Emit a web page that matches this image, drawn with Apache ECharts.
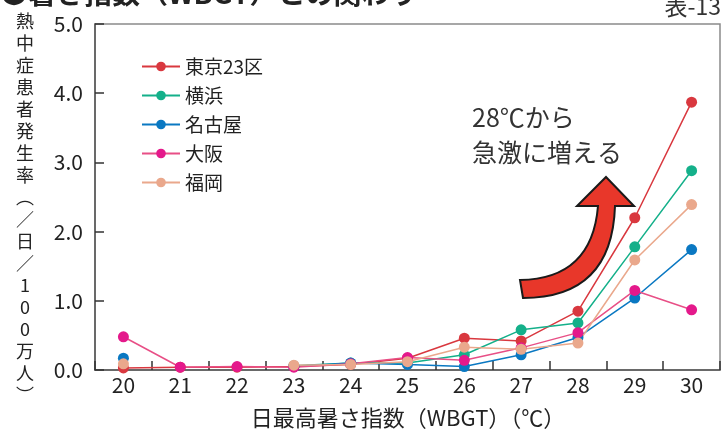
<!DOCTYPE html>
<html>
<head>
<meta charset="utf-8">
<script src="https://cdn.jsdelivr.net/npm/echarts@6/dist/echarts.min.js"></script>
<style>
html,body{margin:0;padding:0;background:#fff;}
#chart{width:723px;height:434px;}
</style>
</head>
<body>
<div id="chart"></div>
<script>
var categories = ['20','21','22','23','24','25','26','27','28','29','30'];
var yTicks = [0, 1, 2, 3, 4, 5];
var seriesNames = ['東京23区', '横浜', '名古屋', '大阪', '福岡'];
var tokyo    = [0.03, 0.04, 0.04, 0.05, 0.08, 0.17, 0.46, 0.42, 0.85, 2.20, 3.87];
var yokohama = [null, null, null, 0.06, 0.10, 0.10, 0.22, 0.58, 0.68, 1.78, 2.88];
var nagoya   = [0.17, null, null, 0.05, 0.10, 0.08, 0.05, 0.22, 0.47, 1.04, 1.74];
var osaka    = [0.48, 0.04, 0.05, 0.04, 0.09, 0.18, 0.14, 0.32, 0.54, 1.15, 0.87];
var fukuoka  = [0.09, null, null, 0.07, 0.08, 0.12, 0.33, 0.30, 0.39, 1.59, 2.39];

var FONT = "'Noto Sans CJK JP', 'Noto Sans', sans-serif";
var dotColors  = ['#d9383f', '#14b08a', '#0a78c2', '#e4198b', '#eaa88c'];
var lineColors = ['#d9383f', '#14b08a', '#0a78c2', '#e84f86', '#eaa88c'];
var values = [tokyo, yokohama, nagoya, osaka, fukuoka];

var ArrowShape = echarts.graphic.extendPath(
  'M520 280 Q592 279 598 206 L577 206 L606 177 L634 206 L615 206 Q612 298 523 298 Z', {});
echarts.graphic.registerShape('bigArrow', ArrowShape);

var chart = echarts.init(document.getElementById('chart'));
var series = seriesNames.map(function (name, i) {
  return {
    name: name,
    type: 'line',
    data: values[i],
    symbol: 'circle',
    symbolSize: 11,
    showSymbol: true,
    connectNulls: false,
    itemStyle: { color: dotColors[i] },
    lineStyle: { color: lineColors[i], width: 1.5 },
    emphasis: { disabled: true },
    animation: false
  };
});

var yLabel = '熱中症患者発生率︵／日／100万人︶'.split('').join('\n');

chart.setOption({
  animation: false,
  grid: {
    left: 95, right: 3, top: 24, bottom: 64,
    show: true, borderColor: '#8a8a8a', borderWidth: 1.5, backgroundColor: 'transparent'
  },
  legend: {
    orient: 'vertical',
    left: 141, top: 57,
    padding: 0,
    itemWidth: 38, itemHeight: 12,
    itemGap: 10,
    textStyle: { fontFamily: FONT, fontSize: 19, color: '#222' },
    data: seriesNames.map(function (n, i) {
      return { name: n, itemStyle: { color: dotColors[i] }, lineStyle: { color: lineColors[i] } };
    })
  },
  xAxis: {
    type: 'category',
    data: categories,
    boundaryGap: true,
    axisLine: { lineStyle: { color: '#555', width: 1.5 } },
    axisTick: { show: true, inside: true, length: 9, alignWithLabel: false, lineStyle: { color: '#333', width: 1.5 } },
    axisLabel: { fontFamily: FONT, fontSize: 21, color: '#222', margin: 5 },
    splitLine: { show: false }
  },
  yAxis: {
    type: 'value',
    min: yTicks[0], max: yTicks[yTicks.length - 1], interval: 1,
    axisLine: { show: true, lineStyle: { color: '#555', width: 1.5 } },
    axisTick: { show: true, inside: true, length: 9, lineStyle: { color: '#333', width: 1.5 } },
    axisLabel: { fontFamily: FONT, fontSize: 21, color: '#222', margin: 12,
      formatter: function (v) { return v.toFixed(1); } },
    splitLine: { show: false }
  },
  series: series,
  graphic: [
    {
      type: 'text', x: 0, y: -21,
      style: { text: '●暑さ指数（WBGT）との関わり', fontFamily: FONT, fontSize: 28, fontWeight: 'bold', fill: '#222', verticalAlign: 'top' }
    },
    {
      type: 'text', x: 721, y: -5,
      style: { text: '表-13', fontFamily: FONT, fontSize: 23, fill: '#333', align: 'right', verticalAlign: 'top' }
    },
    {
      type: 'text', x: 25, y: 10,
      style: { text: yLabel, fontFamily: FONT, fontSize: 18, lineHeight: 22, fill: '#222', align: 'center', verticalAlign: 'top' }
    },
    {
      type: 'text', x: 408, y: 418,
      style: { text: '日最高暑さ指数（WBGT）（℃）', fontFamily: FONT, fontSize: 22, fill: '#222', align: 'center', verticalAlign: 'middle' }
    },
    {
      type: 'text', x: 472, y: 117,
      style: { text: '28℃から', fontFamily: FONT, fontSize: 25, fill: '#333', align: 'left', verticalAlign: 'middle' }
    },
    {
      type: 'text', x: 472, y: 152,
      style: { text: '急激に増える', fontFamily: FONT, fontSize: 25, fill: '#333', align: 'left', verticalAlign: 'middle' }
    },
    {
      type: 'bigArrow',
      shape: {},
      style: { fill: '#e8372a', stroke: '#1a1a1a', lineWidth: 2 },
      z: 10
    }
  ]
});
</script>
</body>
</html>
